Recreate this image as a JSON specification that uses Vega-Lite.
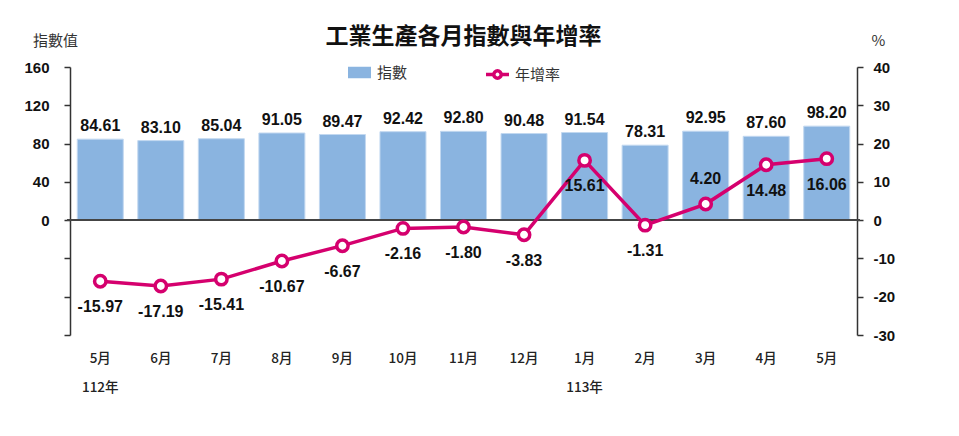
{
  "$schema": "https://vega.github.io/schema/vega-lite/v6.json",
  "width": 787,
  "height": 268,
  "autosize": {"type": "none"},
  "padding": {"left": 70, "top": 67, "right": 102, "bottom": 101},
  "background": "white",
  "title": {
    "text": "工業生產各月指數與年增率",
    "anchor": "middle",
    "frame": "group",
    "offset": -16,
    "font": "Noto Sans CJK TC",
    "fontSize": 23,
    "fontWeight": 700,
    "color": "#111"
  },
  "config": {
    "view": {"stroke": null},
    "axis": {"grid": false},
    "locale": {"number": {"decimal": ".", "thousands": ",", "grouping": [3], "currency": ["", ""], "minus": "-"}}
  },
  "data": {
    "values": [
      {"m": "112年5月", "index": 84.61, "yoy": -15.97},
      {"m": "112年6月", "index": 83.10, "yoy": -17.19},
      {"m": "112年7月", "index": 85.04, "yoy": -15.41},
      {"m": "112年8月", "index": 91.05, "yoy": -10.67},
      {"m": "112年9月", "index": 89.47, "yoy": -6.67},
      {"m": "112年10月", "index": 92.42, "yoy": -2.16},
      {"m": "112年11月", "index": 92.80, "yoy": -1.80},
      {"m": "112年12月", "index": 90.48, "yoy": -3.83},
      {"m": "113年1月", "index": 91.54, "yoy": 15.61},
      {"m": "113年2月", "index": 78.31, "yoy": -1.31},
      {"m": "113年3月", "index": 92.95, "yoy": 4.20},
      {"m": "113年4月", "index": 87.60, "yoy": 14.48},
      {"m": "113年5月", "index": 98.20, "yoy": 16.06}
    ]
  },
  "encoding": {
    "x": {
      "field": "m",
      "type": "nominal",
      "sort": null,
      "scale": {"paddingInner": 0.24, "paddingOuter": 0.12},
      "axis": {
        "title": null,
        "domain": false,
        "ticks": false,
        "labelAngle": 0,
        "labelPadding": 23,
        "labelFont": "Noto Sans CJK TC",
        "labelFontSize": 13.5,
        "labelFontWeight": 500,
        "labelColor": "#222",
        "labelLineHeight": 29,
        "labelBaseline": "middle",
        "labelExpr": "indexof(['112年5月','113年1月'], datum.value) >= 0 ? [substring(datum.value, 4), substring(datum.value, 0, 4)] : substring(datum.value, 4)"
      }
    }
  },
  "layer": [
    {
      "encoding": {
        "y": {
          "field": "index",
          "type": "quantitative",
          "scale": {"domain": [-120, 160], "nice": false, "zero": false},
          "axis": {
            "orient": "left",
            "values": [-120, -80, -40, 0, 40, 80, 120, 160],
            "labelExpr": "datum.value >= 0 ? datum.value : ''",
            "labelFont": "Liberation Sans",
            "labelFontWeight": "bold",
            "labelFontSize": 15,
            "labelColor": "#111",
            "labelPadding": 15,
            "domainColor": "#333",
            "domainWidth": 1.5,
            "tickColor": "#333",
            "tickWidth": 1.5,
            "tickSize": 6,
            "title": "指數值",
            "titleAngle": 0,
            "titleX": -15,
            "titleY": -27,
            "titleAlign": "center",
            "titleBaseline": "middle",
            "titleFont": "Noto Sans CJK TC",
            "titleFontSize": 15,
            "titleFontWeight": "normal",
            "titleColor": "#333"
          }
        }
      },
      "layer": [
        {
          "mark": {"type": "bar", "stroke": "#c2d8f0", "strokeWidth": 1},
          "encoding": {
            "fill": {
              "datum": "指數",
              "type": "nominal",
              "scale": {"domain": ["指數"], "range": ["#8ab4e0"]},
              "legend": {
                "title": null,
                "orient": "none",
                "legendX": 278,
                "legendY": -6,
                "symbolType": "M-1,-0.5H1V0.5H-1Z",
                "symbolSize": 529,
                "symbolStrokeWidth": 0,
                "labelFont": "Noto Sans CJK TC",
                "labelFontSize": 15,
                "labelColor": "#333",
                "labelOffset": 6
              }
            }
          }
        },
        {
          "mark": {"type": "text", "baseline": "bottom", "dy": -5, "font": "Liberation Sans", "fontWeight": "bold", "fontSize": 16, "color": "#111"},
          "encoding": {
            "text": {"field": "index", "type": "quantitative", "format": ".2f"}
          }
        },
        {
          "mark": {"type": "rule", "color": "#444", "strokeWidth": 1.5},
          "encoding": {"y": {"datum": 0}, "x": {"value": -3}, "x2": {"value": 790}}
        }
      ]
    },
    {
      "encoding": {
        "y": {
          "field": "yoy",
          "type": "quantitative",
          "scale": {"domain": [-30, 40], "nice": false, "zero": false},
          "axis": {
            "orient": "right",
            "values": [-30, -20, -10, 0, 10, 20, 30, 40],
            "labelFont": "Liberation Sans",
            "labelFontWeight": "bold",
            "labelFontSize": 15,
            "labelColor": "#111",
            "labelPadding": 10,
            "domainColor": "#333",
            "domainWidth": 1.5,
            "tickColor": "#333",
            "tickWidth": 1.5,
            "tickSize": 6,
            "title": "%",
            "titleAngle": 0,
            "titleX": 21,
            "titleY": -27,
            "titleAlign": "center",
            "titleBaseline": "middle",
            "titleFont": "Noto Sans CJK TC",
            "titleFontSize": 15,
            "titleFontWeight": "normal",
            "titleColor": "#333"
          }
        }
      },
      "layer": [
        {
          "mark": {"type": "line", "strokeWidth": 3.5},
          "encoding": {
            "stroke": {
              "datum": "年增率",
              "type": "nominal",
              "scale": {"domain": ["年增率"], "range": ["#d5006e"]},
              "legend": {
                "title": null,
                "orient": "none",
                "legendX": 414,
                "legendY": -6,
                "symbolType": "M-1,0H-0.32M0.32,0H1M0.32,0A0.32,0.32,0,1,1,-0.32,0A0.32,0.32,0,1,1,0.32,0Z",
                "symbolSize": 529,
                "symbolStrokeWidth": 3.5,
                "symbolFillColor": "white",
                "labelFont": "Noto Sans CJK TC",
                "labelFontSize": 15,
                "labelColor": "#333",
                "labelOffset": 4
              }
            }
          }
        },
        {
          "mark": {"type": "point", "shape": "circle", "filled": true, "fill": "white", "stroke": "#d5006e", "strokeWidth": 3.5, "size": 130, "opacity": 1}
        },
        {
          "transform": [{"filter": "datum.m != '113年3月'"}],
          "mark": {"type": "text", "baseline": "middle", "dy": 26, "font": "Liberation Sans", "fontWeight": "bold", "fontSize": 16, "color": "#111"},
          "encoding": {
            "text": {"field": "yoy", "type": "quantitative", "format": ".2f"}
          }
        },
        {
          "transform": [{"filter": "datum.m == '113年3月'"}],
          "mark": {"type": "text", "baseline": "middle", "dy": -25, "font": "Liberation Sans", "fontWeight": "bold", "fontSize": 16, "color": "#111"},
          "encoding": {
            "text": {"field": "yoy", "type": "quantitative", "format": ".2f"}
          }
        }
      ]
    }
  ],
  "resolve": {"scale": {"y": "independent"}}
}
